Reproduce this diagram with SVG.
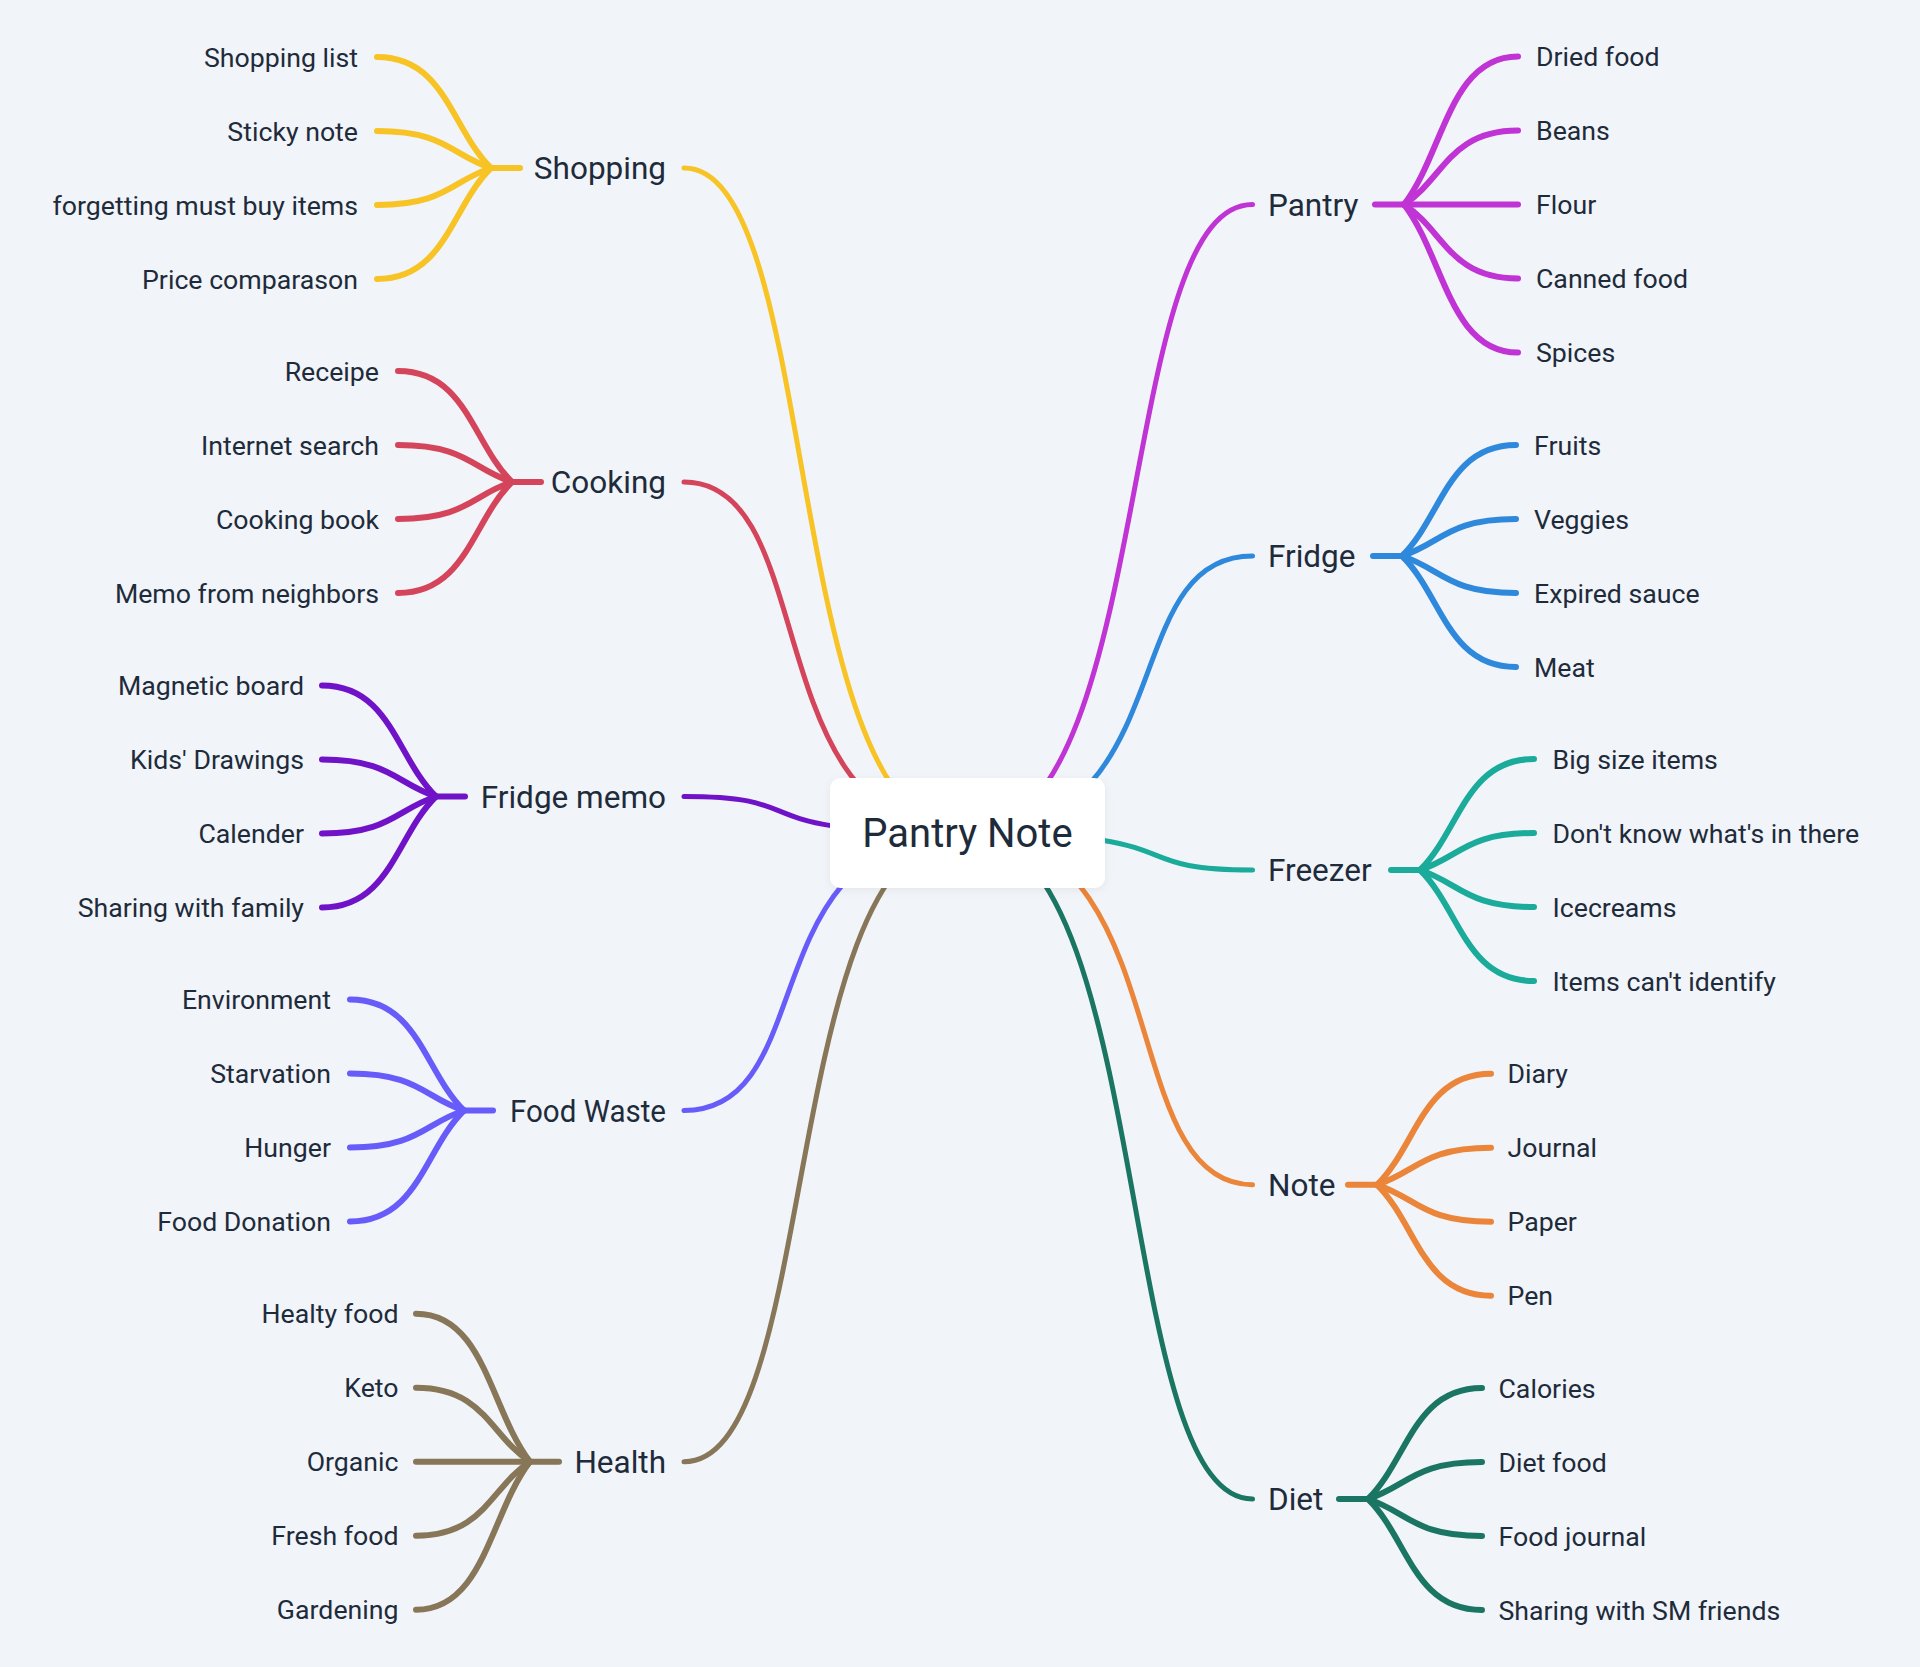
<svg xmlns="http://www.w3.org/2000/svg" width="1920" height="1667" viewBox="0 0 1920 1667">
<defs>
<style>
.bg{fill:#F1F4F8}
.m{fill:none;stroke-width:5;stroke-linecap:round}
.s{fill:none;stroke-width:6;stroke-linecap:round}
.t{font-family:Roboto,"Liberation Sans",sans-serif;fill:#1E2B3B}
.ch{font-size:26.7px}
.mn{font-size:31.5px}
.ce{font-size:40px}
.l{text-anchor:end}
.r{text-anchor:start}
.yel{stroke:#F7C325}
.red{stroke:#D4445A}
.pur{stroke:#7012C7}
.vio{stroke:#675BFA}
.brn{stroke:#877658}
.mag{stroke:#C033D4}
.blu{stroke:#2E88DB}
.tea{stroke:#1AAB9B}
.ora{stroke:#EA853A}
.grn{stroke:#1B7563}
</style>
<filter id="sh" x="-10%" y="-20%" width="120%" height="140%">
<feDropShadow dx="0" dy="2" stdDeviation="4" flood-color="#000" flood-opacity="0.06"/>
</filter>
</defs>
<rect class="bg" x="0" y="0" width="1920" height="1667"/>
<g id="connectors">
<path class="m yel" d="M684,168 C823,168 780,833 967,833"/>
<path class="m red" d="M684,482 C823,482 755,833 967,833"/>
<path class="m pur" d="M684,796.5 C823,796.5 730,833 967,833"/>
<path class="m vio" d="M684,1110.5 C823,1110.5 749,833 967,833"/>
<path class="m brn" d="M684,1461.7 C823,1461.7 777,833 967,833"/>
<path class="m mag" d="M1252.5,204.5 C1113.5,204.5 1157,833 967,833"/>
<path class="m blu" d="M1252.5,556 C1113.5,556 1185,833 967,833"/>
<path class="m tea" d="M1252.5,870 C1113.5,870 1204,833 967,833"/>
<path class="m ora" d="M1252.5,1184.8 C1113.5,1184.8 1179,833 967,833"/>
<path class="m grn" d="M1252.5,1499 C1113.5,1499 1154,833 967,833"/>
<path class="s yel" d="M520,168 L491,168"/>
<path class="s yel" d="M377,57 C445.4,57 451.1,129.15 491,168"/>
<path class="s yel" d="M377,131 C445.4,131 451.1,155.05 491,168"/>
<path class="s yel" d="M377,205 C445.4,205 451.1,180.95 491,168"/>
<path class="s yel" d="M377,279 C445.4,279 451.1,206.85 491,168"/>
<path class="s red" d="M541,482 L512,482"/>
<path class="s red" d="M398,371 C466.4,371 472.1,443.15 512,482"/>
<path class="s red" d="M398,445 C466.4,445 472.1,469.05 512,482"/>
<path class="s red" d="M398,519 C466.4,519 472.1,494.95 512,482"/>
<path class="s red" d="M398,593 C466.4,593 472.1,520.85 512,482"/>
<path class="s pur" d="M465,796.5 L436,796.5"/>
<path class="s pur" d="M322,685.5 C390.4,685.5 396.1,757.65 436,796.5"/>
<path class="s pur" d="M322,759.5 C390.4,759.5 396.1,783.55 436,796.5"/>
<path class="s pur" d="M322,833.5 C390.4,833.5 396.1,809.45 436,796.5"/>
<path class="s pur" d="M322,907.5 C390.4,907.5 396.1,835.35 436,796.5"/>
<path class="s vio" d="M493,1110.5 L464,1110.5"/>
<path class="s vio" d="M350,999.5 C418.4,999.5 424.1,1071.65 464,1110.5"/>
<path class="s vio" d="M350,1073.5 C418.4,1073.5 424.1,1097.55 464,1110.5"/>
<path class="s vio" d="M350,1147.5 C418.4,1147.5 424.1,1123.45 464,1110.5"/>
<path class="s vio" d="M350,1221.5 C418.4,1221.5 424.1,1149.35 464,1110.5"/>
<path class="s brn" d="M559,1461.7 L530,1461.7"/>
<path class="s brn" d="M416,1313.7 C484.4,1313.7 490.1,1409.9 530,1461.7"/>
<path class="s brn" d="M416,1387.7 C484.4,1387.7 490.1,1435.8 530,1461.7"/>
<path class="s brn" d="M416,1461.7 L530,1461.7"/>
<path class="s brn" d="M416,1535.7 C484.4,1535.7 490.1,1487.6 530,1461.7"/>
<path class="s brn" d="M416,1609.7 C484.4,1609.7 490.1,1513.5 530,1461.7"/>
<path class="s mag" d="M1375,204.5 L1404,204.5"/>
<path class="s mag" d="M1518,56.5 C1449.6,56.5 1443.9,152.7 1404,204.5"/>
<path class="s mag" d="M1518,130.5 C1449.6,130.5 1443.9,178.6 1404,204.5"/>
<path class="s mag" d="M1518,204.5 L1404,204.5"/>
<path class="s mag" d="M1518,278.5 C1449.6,278.5 1443.9,230.4 1404,204.5"/>
<path class="s mag" d="M1518,352.5 C1449.6,352.5 1443.9,256.3 1404,204.5"/>
<path class="s blu" d="M1373,556 L1402,556"/>
<path class="s blu" d="M1516,445 C1447.6,445 1441.9,517.15 1402,556"/>
<path class="s blu" d="M1516,519 C1447.6,519 1441.9,543.05 1402,556"/>
<path class="s blu" d="M1516,593 C1447.6,593 1441.9,568.95 1402,556"/>
<path class="s blu" d="M1516,667 C1447.6,667 1441.9,594.85 1402,556"/>
<path class="s tea" d="M1391,870 L1420,870"/>
<path class="s tea" d="M1534,759 C1465.6,759 1459.9,831.15 1420,870"/>
<path class="s tea" d="M1534,833 C1465.6,833 1459.9,857.05 1420,870"/>
<path class="s tea" d="M1534,907 C1465.6,907 1459.9,882.95 1420,870"/>
<path class="s tea" d="M1534,981 C1465.6,981 1459.9,908.85 1420,870"/>
<path class="s ora" d="M1348,1184.8 L1377,1184.8"/>
<path class="s ora" d="M1491,1073.8 C1422.6,1073.8 1416.9,1145.95 1377,1184.8"/>
<path class="s ora" d="M1491,1147.8 C1422.6,1147.8 1416.9,1171.85 1377,1184.8"/>
<path class="s ora" d="M1491,1221.8 C1422.6,1221.8 1416.9,1197.75 1377,1184.8"/>
<path class="s ora" d="M1491,1295.8 C1422.6,1295.8 1416.9,1223.65 1377,1184.8"/>
<path class="s grn" d="M1339,1499 L1368,1499"/>
<path class="s grn" d="M1482,1388 C1413.6,1388 1407.9,1460.15 1368,1499"/>
<path class="s grn" d="M1482,1462 C1413.6,1462 1407.9,1486.05 1368,1499"/>
<path class="s grn" d="M1482,1536 C1413.6,1536 1407.9,1511.95 1368,1499"/>
<path class="s grn" d="M1482,1610 C1413.6,1610 1407.9,1537.85 1368,1499"/>
</g>
<g id="center">
<rect x="830" y="778" width="275" height="110" rx="11" fill="#FFFFFF" filter="url(#sh)"/>
<text class="t ce" x="967.5" y="847" text-anchor="middle">Pantry Note</text>
</g>
<g id="shopping">
<text class="t mn l" x="666" y="179.2">Shopping</text>
<text class="t ch l" x="358" y="66.5">Shopping list</text>
<text class="t ch l" x="358" y="140.5">Sticky note</text>
<text class="t ch l" x="358" y="214.5">forgetting must buy items</text>
<text class="t ch l" x="358" y="288.5">Price comparason</text>
</g>
<g id="cooking">
<text class="t mn l" x="666" y="493.2">Cooking</text>
<text class="t ch l" x="379" y="380.5">Receipe</text>
<text class="t ch l" x="379" y="454.5">Internet search</text>
<text class="t ch l" x="379" y="528.5">Cooking book</text>
<text class="t ch l" x="379" y="602.5">Memo from neighbors</text>
</g>
<g id="fridge-memo">
<text class="t mn l" x="666" y="807.7">Fridge memo</text>
<text class="t ch l" x="304" y="695">Magnetic board</text>
<text class="t ch l" x="304" y="769">Kids' Drawings</text>
<text class="t ch l" x="304" y="843">Calender</text>
<text class="t ch l" x="304" y="917">Sharing with family</text>
</g>
<g id="food-waste">
<text class="t mn l" x="666" y="1121.7" textLength="156" lengthAdjust="spacingAndGlyphs">Food Waste</text>
<text class="t ch l" x="331" y="1009">Environment</text>
<text class="t ch l" x="331" y="1083">Starvation</text>
<text class="t ch l" x="331" y="1157">Hunger</text>
<text class="t ch l" x="331" y="1231">Food Donation</text>
</g>
<g id="health">
<text class="t mn l" x="666" y="1472.9">Health</text>
<text class="t ch l" x="398.5" y="1323.2">Healty food</text>
<text class="t ch l" x="398.5" y="1397.2">Keto</text>
<text class="t ch l" x="398.5" y="1471.2">Organic</text>
<text class="t ch l" x="398.5" y="1545.2">Fresh food</text>
<text class="t ch l" x="398.5" y="1619.2">Gardening</text>
</g>
<g id="pantry">
<text class="t mn r" x="1268" y="215.7">Pantry</text>
<text class="t ch r" x="1536" y="66">Dried food</text>
<text class="t ch r" x="1536" y="140">Beans</text>
<text class="t ch r" x="1536" y="214">Flour</text>
<text class="t ch r" x="1536" y="288">Canned food</text>
<text class="t ch r" x="1536" y="362">Spices</text>
</g>
<g id="fridge">
<text class="t mn r" x="1268" y="567.2">Fridge</text>
<text class="t ch r" x="1534" y="454.5">Fruits</text>
<text class="t ch r" x="1534" y="528.5">Veggies</text>
<text class="t ch r" x="1534" y="602.5">Expired sauce</text>
<text class="t ch r" x="1534" y="676.5">Meat</text>
</g>
<g id="freezer">
<text class="t mn r" x="1268" y="881.2">Freezer</text>
<text class="t ch r" x="1552.5" y="768.5">Big size items</text>
<text class="t ch r" x="1552.5" y="842.5">Don't know what's in there</text>
<text class="t ch r" x="1552.5" y="916.5">Icecreams</text>
<text class="t ch r" x="1552.5" y="990.5">Items can't identify</text>
</g>
<g id="note">
<text class="t mn r" x="1268" y="1196">Note</text>
<text class="t ch r" x="1507.5" y="1083.3">Diary</text>
<text class="t ch r" x="1507.5" y="1157.3">Journal</text>
<text class="t ch r" x="1507.5" y="1231.3">Paper</text>
<text class="t ch r" x="1507.5" y="1305.3">Pen</text>
</g>
<g id="diet">
<text class="t mn r" x="1268" y="1510.2">Diet</text>
<text class="t ch r" x="1498.5" y="1397.5">Calories</text>
<text class="t ch r" x="1498.5" y="1471.5">Diet food</text>
<text class="t ch r" x="1498.5" y="1545.5">Food journal</text>
<text class="t ch r" x="1498.5" y="1619.5">Sharing with SM friends</text>
</g>
</svg>
